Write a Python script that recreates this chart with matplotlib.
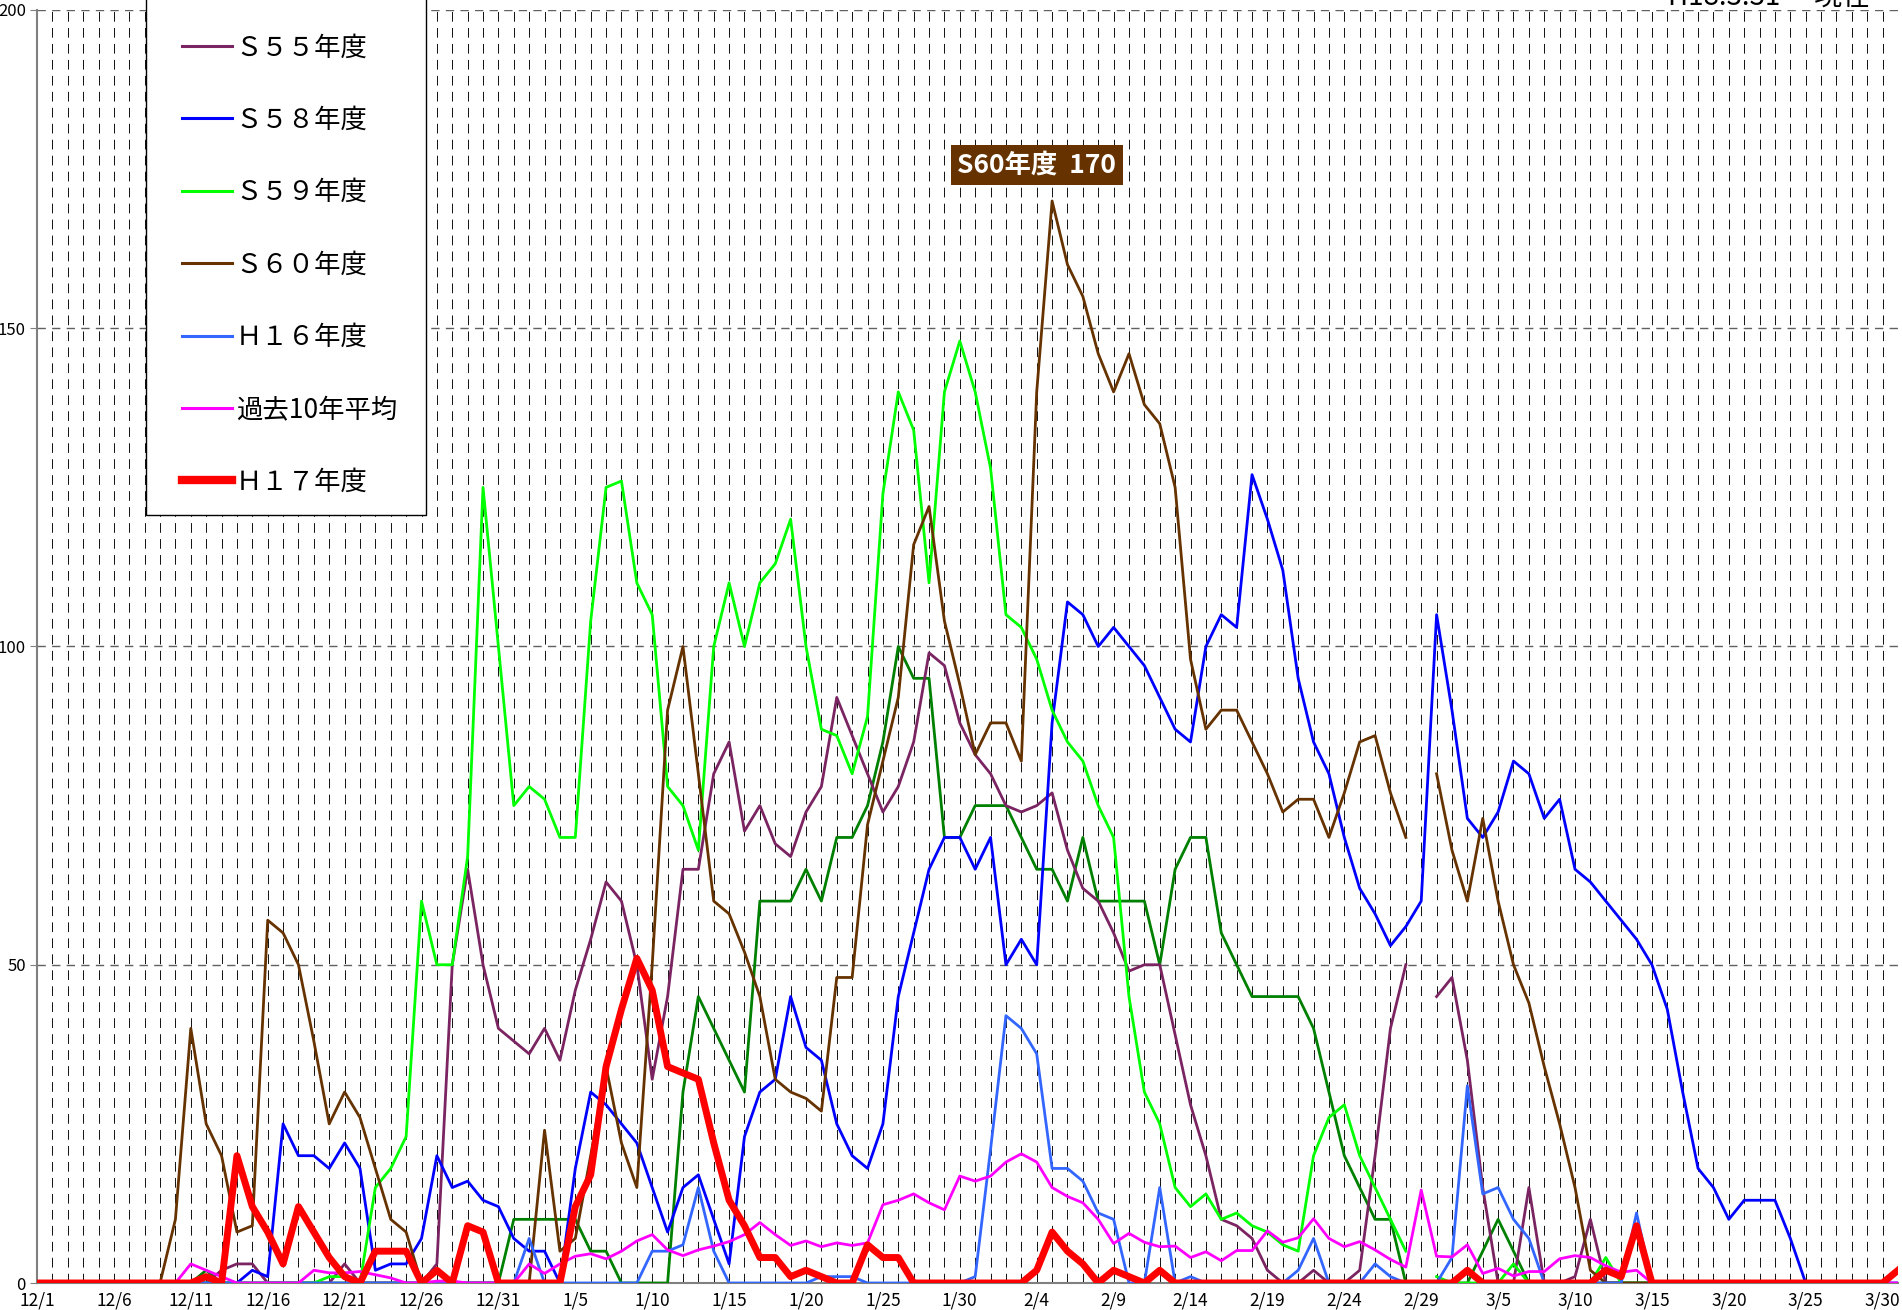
import numpy as np
import matplotlib
matplotlib.use("Agg")
import matplotlib.pyplot as plt
from matplotlib.lines import Line2D
from matplotlib.patches import Rectangle
from matplotlib.ticker import MultipleLocator, FixedLocator, FixedFormatter

plt.rcParams['font.family'] = ['Noto Sans CJK JP', 'DejaVu Sans']
plt.rcParams['lines.scale_dashes'] = False

N = None
# x positions: day index from 12/1 (0) to 3/31 (121)
days = list(range(122))
tick_labels = ["12/1", "12/6", "12/11", "12/16", "12/21", "12/26", "12/31", "1/5", "1/10",
               "1/15", "1/20", "1/25", "1/30", "2/4", "2/9", "2/14", "2/19", "2/24", "2/29",
               "3/5", "3/10", "3/15", "3/20", "3/25", "3/30"]

# unlabeled dark green series (its legend entry is cut off above the figure)
dark_green = ([0]*11 + [2] + [0]*19 +
              [10, 10, 10, 10, 10, 5, 5, 0, 0, 0, 0, 30, 45, 40, 35, 30, 60, 60, 60, 65,
               60, 70, 70, 75, 85, 100, 95, 95, 70, 70,
               75, 75, 75, 70, 65, 65, 60, 70, 60, 60, 60, 60, 50, 65, 70, 70, 55, 50, 45, 45,
               45, 45, 40, 30, 20, 15, 10, 10, 0, N,
               0, 0, 0, 5, 10, 5, 0, 0, 0, 0, 0, 0, 0, 0, 0] + [N]*16)

s55 = ([0]*12 +
       [2, 3, 3, 0, 0, 0, 0, 0, 3, 0, 0, 0, 0, 0, 3, 50, 65, 50, 40,
        38, 36, 40, 35, 46, 54, 63, 60, 50, 32, 45, 65, 65, 80, 85, 71, 75, 69, 67, 74,
        78, 92, 86, 80, 74, 78, 85, 99, 97, 88,
        83, 80, 75, 74, 75, 77, 68, 62, 60, 55, 49, 50, 50, 39, 28, 20, 10, 9, 7, 2,
        0, 0, 2, 0, 0, 2, 20, 40, 50, N,
        45, 48, 35, 15, 0, 0, 15, 0, 0, 1, 10, 0, 0, 0, 0] + [N]*16)

s58 = ([0]*14 +
       [2, 1, 25, 20, 20, 18, 22, 18, 2, 3, 3, 7, 20, 15, 16, 13, 12,
        7, 5, 5, 0, 18, 30, 28, 25, 22, 15, 8, 15, 17, 10, 3, 23, 30, 32, 45, 37,
        35, 25, 20, 18, 25, 45, 55, 65, 70, 70,
        65, 70, 50, 54, 50, 88, 107, 105, 100, 103, 100, 97, 92, 87, 85, 100, 105, 103,
        127, 120, 112, 95, 85, 80, 70, 62, 58, 53, 56, 60,
        105, 90, 73, 70, 74, 82, 80, 73, 76, 65, 63, 60, 57, 54, 50, 43, 30, 18, 15, 10,
        13, 13, 13, 7, 0, 0, 0, 0, 0, 0, 0])

s59 = ([0]*19 +
       [1, 1, 0, 15, 18, 23, 60, 50, 50, 67, 125, 100,
        75, 78, 76, 70, 70, 104, 125, 126, 110, 105, 78, 75, 68, 100, 110, 100, 110, 113,
        120, 100, 87, 86, 80, 89, 124, 140, 134, 110, 140, 148,
        140, 128, 105, 103, 98, 90, 85, 82, 75, 70, 45, 30, 25, 15, 12, 14, 10, 11, 9, 8,
        6, 5, 20, 26, 28, 20, 15, 10, 5, N,
        1, 0, 0, 0, 0, 3, 0, 0, 0, 0, 0, 4, 0, 0, 0] + [N]*16)

s60 = ([0]*9 +
       [10, 40, 25, 20, 8, 9, 57, 55, 50, 38, 25, 30, 26, 18, 10, 8, 0, 0, 0, 0, 0, 0,
        0, 0, 24, 5, 7, 20, 34, 22, 15, 50, 90, 100, 80, 60, 58, 52, 45, 32, 30, 29,
        27, 48, 48, 72, 82, 92, 116, 122, 104, 94,
        83, 88, 88, 82, 140, 170, 160, 155, 146, 140, 146, 138, 135, 125, 98, 87, 90, 90,
        85, 80, 74, 76, 76, 70, 77, 85, 86, 77, 70, N,
        80, 68, 60, 73, 60, 50, 44, 34, 25, 15, 2, 0, 0, 0, 0] + [N]*16)

h16 = ([0]*32 +
       [7, 0, 0, 0, 0, 0, 0, 0, 5, 5, 6, 15, 5, 0, 0, 0, 0, 0, 0, 1, 1, 1, 0, 0, 0, 0,
        0, 0, 0, 1, 21, 42, 40, 36, 18, 18, 16, 11, 10, 0, 0, 15, 0, 1, 0, 0, 0, 0, 0,
        0, 2, 7, 0, 0, 0, 3, 1, 0, N,
        0, 4, 31, 14, 15, 10, 7, 0, 0, 0, 0, 0, 0, 11, 0] + [N]*16)

avg10 = ([0]*10 +
         [3, 2, 1, 0, 0, 0, 0, 0, 2, 1.6, 1.6, 1.8, 1.3, 0.8, 0, 0, 0.3, 0.3, 0, 0, 0,
          0, 3, 1.5, 3, 4.2, 4.6, 3.8, 5, 6.6, 7.6, 5.2, 4.3, 5.2, 5.8, 6.5, 7.6, 9.5,
          7.6, 5.9, 6.6, 5.7, 6.3, 5.9, 6.3, 12.3, 13, 14, 12.6, 11.5, 16.8,
          16, 16.8, 19, 20.3, 19, 15, 13.6, 12.6, 10, 6.2, 7.8, 6.4, 5.7, 5.8, 4, 4.9,
          3.5, 5.1, 5.1, 8.2, 6.4, 7.1, 10.1, 7, 5.7, 6.5, 5.2, 3.7, 2.5, 14.6,
          4.2, 4.1, 6, 1.5, 2.3, 1.1, 1.8, 1.8, 3.8, 4.3, 4, 2.7, 1.7, 2, 0] + [0]*16)

h17 = ([0]*11 +
       [1, 0, 20, 12, 8, 3, 12, 8, 4, 1, 0, 5, 5, 5, 0, 2, 0, 9, 8, 0,
        0, 0, 0, 0, 12, 17, 34, 43, 51, 46, 34, 33, 32, 22, 13, 9, 4, 4, 1, 2,
        1, 0, 0, 6, 4, 4, 0, 0, 0, 0,
        0, 0, 0, 0, 2, 8, 5, 3, 0, 2, 1, 0, 2, 0, 0, 0, 0, 0, 0, 0,
        0, 0, 0, 0, 0, 0, 0, 0, 0, 0,
        0, 0, 2, 0, 0, 0, 0, 0, 0, 0, 0, 2, 1, 9, 0, 0, 0, 0, 0, 0,
        0, 0, 0, 0, 0, 0, 0, 0, 0, 0, 2])

series = [
    ("Ｓ５５年度", s55, "#7B2462", 2.0),
    ("Ｓ５８年度", s58, "#0000FF", 2.0),
    ("Ｓ５９年度", s59, "#00FF00", 2.0),
    ("Ｓ６０年度", s60, "#663300", 2.0),
    ("Ｈ１６年度", h16, "#3366FF", 2.0),
    ("過去10年平均", avg10, "#FF00FF", 2.0),
    ("Ｈ１７年度", h17, "#FF0000", 5.0),
]

def arr(v):
    return np.array([np.nan if x is None else x for x in v], dtype=float)

W, H = 1902, 1310
fig = plt.figure(figsize=(W / 100, H / 100), dpi=100)
ax = fig.add_axes([37 / W, 27 / H, (1898 - 37) / W, (1300 - 27) / H])
ax.set_xlim(0, 121)
ax.set_ylim(0, 200)

# grid
ax.set_axisbelow(True)
ax.xaxis.set_major_locator(FixedLocator(list(range(0, 121, 5))))
ax.xaxis.set_major_formatter(FixedFormatter(tick_labels))
ax.xaxis.set_minor_locator(MultipleLocator(1))
ax.yaxis.set_major_locator(MultipleLocator(50))
ax.grid(which='both', axis='x', color='black', linewidth=0.65, linestyle=(0, (7, 4.5)))
ax.grid(which='major', axis='y', color='#606060', linewidth=1.0, linestyle=(0, (6, 4.5)))

for s in ['top', 'right']:
    ax.spines[s].set_visible(False)
for s in ['left', 'bottom']:
    ax.spines[s].set_color('#808080')
    ax.spines[s].set_linewidth(1.5)

ax.tick_params(axis='x', which='both', length=0, pad=6, labelsize=12.5)
ax.tick_params(axis='y', which='major', length=5, color='#808080', pad=3, labelsize=12)

x = np.array(days)
ax.plot(x, arr(dark_green), color="#008000", linewidth=2.0, zorder=3)
handles, labels = [], []
for i, (lab, vals, col, lw) in enumerate(series):
    ax.plot(x, arr(vals), color=col, linewidth=lw, zorder=4 + i)
    handles.append(Line2D([], [], color=col, linewidth=(6.0 if lw > 3 else 2.2)))
    labels.append(lab)

# legend frame (its top runs off the figure, as in the reference)
frame = Rectangle((146 / W, (H - 515) / H), (426 - 146) / W, 700 / H,
                  transform=fig.transFigure, facecolor='white', edgecolor='black',
                  linewidth=1.0, zorder=5)
fig.add_artist(frame)

leg = fig.legend(handles, labels, loc='center left',
                 bbox_to_anchor=(182 / W, (H - 265) / H), bbox_transform=fig.transFigure,
                 fontsize=19, frameon=False, borderpad=0, labelspacing=1.72,
                 handlelength=1.9, handletextpad=0.14, borderaxespad=0)
leg.set_zorder(6)

ax.text(65, 175.6, "S60年度  170", color='white', fontsize=19, fontweight='bold',
        ha='center', va='center', zorder=20,
        bbox=dict(boxstyle='square,pad=0.25', fc='#663300', ec='none'))

fig.text(1870 / W, 1.0 - 5 / H, "H18.3.31\u3000 現在", ha='right', va='baseline', fontsize=20)

fig.savefig("out.png", dpi=100)
